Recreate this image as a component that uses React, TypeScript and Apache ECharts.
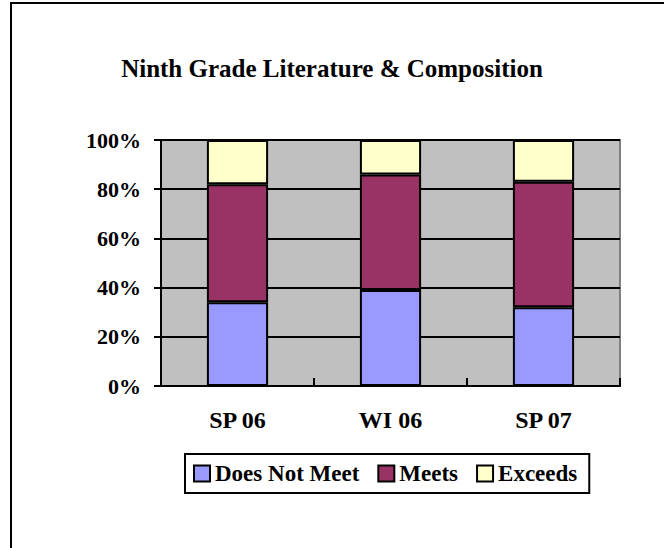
import React, { useEffect, useRef } from "react";
import * as echarts from "echarts";

const categories = ["SP 06", "WI 06", "SP 07"];
const doesNotMeet = [34, 39, 32];
const meets = [48, 47, 51];
const exceeds = [18, 14, 17];
const seriesNames = ["Does Not Meet", "Meets", "Exceeds"];
const titleText = "Ninth Grade Literature & Composition";

const FONT = '"Liberation Serif", "Times New Roman", serif';

export default function App() {
  const ref = useRef<HTMLDivElement>(null);
  useEffect(() => {
    document.body.style.margin = "0";
    const chart = echarts.init(ref.current!, null, { renderer: "svg" });
    const barStyle = (color: string) => ({ color, borderColor: "#000", borderWidth: 2 });
    chart.setOption({
      animation: false,
      backgroundColor: "#fff",
      textStyle: { fontFamily: FONT },
      title: {
        text: titleText,
        left: "center",
        top: 51,
        textStyle: { fontFamily: FONT, fontWeight: "bold", fontSize: 25, color: "#000" },
      },
      graphic: [
        {
          type: "rect",
          shape: { x: 11, y: 3, width: 700, height: 600 },
          style: { fill: "none", stroke: "#000", lineWidth: 2 },
          silent: true,
        },
      ],
      legend: {
        data: seriesNames,
        left: 185,
        top: 454,
        orient: "horizontal",
        itemWidth: 16,
        itemHeight: 16,
        itemGap: 18,
        padding: [8, 12, 8, 8],
        borderColor: "#000",
        borderWidth: 2,
        borderRadius: 0,
        icon: "rect",
        itemStyle: { borderColor: "#000", borderWidth: 2 },
        textStyle: { fontFamily: FONT, fontWeight: "bold", fontSize: 23, color: "#000" },
      },
      grid: {
        left: 161,
        top: 140,
        width: 459,
        height: 246,
        show: true,
        backgroundColor: "#C0C0C0",
        borderColor: "#808080",
        borderWidth: 2,
      },
      xAxis: {
        type: "category",
        data: categories,
        axisLine: { lineStyle: { color: "#000", width: 2 } },
        axisTick: { show: true, inside: true, length: 8, lineStyle: { color: "#000", width: 2 } },
        axisLabel: { color: "#000", fontFamily: FONT, fontWeight: "bold", fontSize: 24, margin: 22 },
      },
      yAxis: {
        type: "value",
        min: 0,
        max: 100,
        interval: 20,
        axisLine: { show: true, lineStyle: { color: "#000", width: 2 } },
        axisTick: { show: true, length: 7, lineStyle: { color: "#000", width: 2 } },
        splitLine: { lineStyle: { color: "#000", width: 2 } },
        axisLabel: { color: "#000", fontFamily: FONT, fontWeight: "bold", fontSize: 22, margin: 20, formatter: "{value}%" },
      },
      series: [
        { name: seriesNames[0], type: "bar", stack: "total", barWidth: "40%", data: doesNotMeet, itemStyle: barStyle("#9999FF") },
        { name: seriesNames[1], type: "bar", stack: "total", barWidth: "40%", data: meets, itemStyle: barStyle("#993366") },
        { name: seriesNames[2], type: "bar", stack: "total", barWidth: "40%", data: exceeds, itemStyle: barStyle("#FFFFCC") },
      ],
    });
    return () => chart.dispose();
  }, []);
  return <div ref={ref} style={{ width: 664, height: 548 }} />;
}
